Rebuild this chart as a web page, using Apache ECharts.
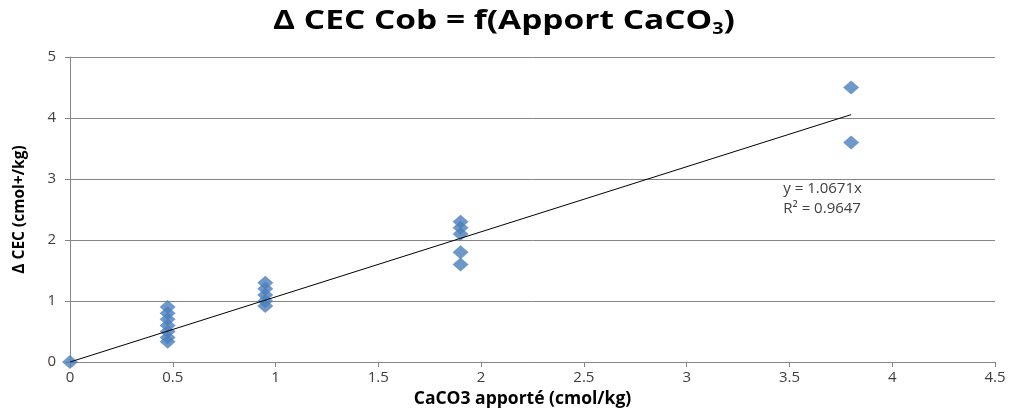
<!DOCTYPE html>
<html>
<head>
<meta charset="utf-8">
<script src="https://cdn.jsdelivr.net/npm/echarts@6/dist/echarts.min.js"></script>
<style>
  html, body { margin: 0; padding: 0; background: #fff; }
  #chart { width: 1009px; height: 413px; }
</style>
</head>
<body>
<div id="chart"></div>
<script>
// CaCO3 added (cmol/kg) and measured CEC increase (cmol+/kg)
const caco3Added = [0, 0.475, 0.475, 0.475, 0.475, 0.475, 0.475, 0.475,
  0.95, 0.95, 0.95, 0.95, 0.95, 1.9, 1.9, 1.9, 1.9, 1.9, 3.8, 3.8];
const deltaCec = [0, 0.9, 0.8, 0.7, 0.6, 0.5, 0.4, 0.33,
  1.3, 1.2, 1.1, 1.0, 0.92, 2.3, 2.2, 2.1, 1.8, 1.6, 4.5, 3.6];

// Linear fit through the origin
const slope = 1.0671;
const rSquared = 0.9647;
const fitRange = [0, 3.8];

const xTicks = { min: 0, max: 4.5, interval: 0.5 };
const yTicks = { min: 0, max: 5, interval: 1 };

const font = '"Open Sans", Lato, sans-serif';
const chart = echarts.init(document.getElementById('chart'));

const points = caco3Added.map((x, i) => [x, deltaCec[i]]);
const fitLine = fitRange.map(x => [x, slope * x]);

chart.setOption({
  animation: false,
  backgroundColor: '#ffffff',
  grid: { left: 70, right: 14, top: 57, bottom: 47, containLabel: false },
  xAxis: {
    type: 'value',
    min: xTicks.min, max: xTicks.max, interval: xTicks.interval,
    name: 'CaCO3 apporté (cmol/kg)',
    nameLocation: 'middle',
    nameGap: 28,
    nameTextStyle: { fontFamily: font, fontSize: 17.5, fontWeight: 'bold', color: '#000', padding: [0, 20, 0, 0] },
    axisLine: { show: true, lineStyle: { color: '#868686', width: 1 } },
    axisTick: { show: true, length: 5, lineStyle: { color: '#868686' } },
    axisLabel: { fontFamily: font, fontSize: 15, color: '#404040', margin: 8 },
    splitLine: { show: false }
  },
  yAxis: {
    type: 'value',
    min: yTicks.min, max: yTicks.max, interval: yTicks.interval,
    name: 'Δ CEC (cmol+/kg)',
    nameLocation: 'middle',
    nameGap: 42,
    nameTextStyle: { fontFamily: font, fontSize: 15.5, fontWeight: 'bold', color: '#000' },
    axisLine: { show: true, lineStyle: { color: '#868686', width: 1 } },
    axisTick: { show: true, length: 5, lineStyle: { color: '#868686' } },
    axisLabel: { fontFamily: font, fontSize: 15, color: '#404040', margin: 14 },
    splitLine: { show: true, lineStyle: { color: '#868686', width: 1 } }
  },
  series: [
    {
      type: 'line',
      data: fitLine,
      symbol: 'none',
      lineStyle: { color: '#000000', width: 1 },
      z: 3
    },
    {
      type: 'scatter',
      data: points,
      symbol: 'diamond',
      symbolSize: [16, 14],
      itemStyle: { color: '#4a7ebb' },
      z: 2
    }
  ]
});

// Title (wide bold lettering) and the equation / R² labels anchored in data space
const anchor = chart.convertToPixel({ gridIndex: 0 }, [3.47, 2.97]);
chart.setOption({
  graphic: [
    {
      type: 'text', x: 504, y: 21, scaleX: 1.24,
      style: {
        text: '{t|Δ CEC Cob = f(Apport CaCO}{s|3}{t|)}',
        align: 'center', verticalAlign: 'middle',
        rich: {
          t: { fontFamily: font, fontSize: 27, fontWeight: 'bold', fill: '#000' },
          s: { fontFamily: font, fontSize: 16, fontWeight: 'bold', fill: '#000', padding: [16, 0, 0, 0] }
        }
      }
    },
    {
      type: 'text', left: anchor[0], top: anchor[1],
      style: { text: 'y = ' + slope + 'x', fontFamily: font, fontSize: 15, fill: '#404040' }
    },
    {
      type: 'text', left: anchor[0], top: anchor[1] + 20,
      style: { text: 'R² = ' + rSquared, fontFamily: font, fontSize: 15, fill: '#404040' }
    }
  ]
});
</script>
</body>
</html>
